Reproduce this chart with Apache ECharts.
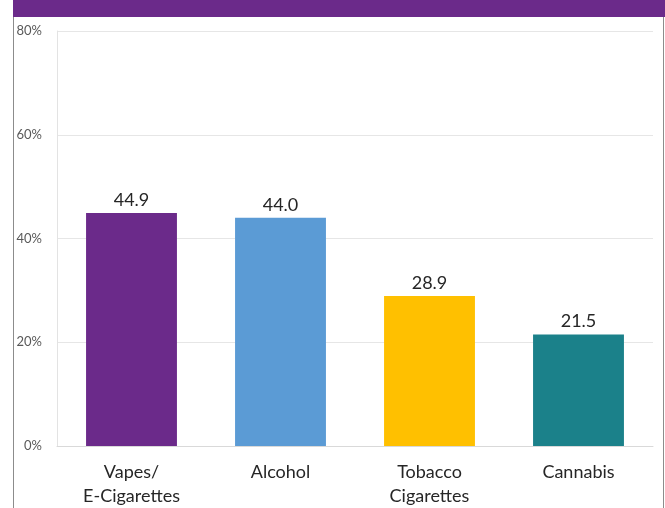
<!DOCTYPE html>
<html>
<head>
<meta charset="utf-8">
<script src="https://cdn.jsdelivr.net/npm/echarts@6/dist/echarts.min.js"></script>
<style>html,body{margin:0;padding:0;background:#fff}#c{width:665px;height:508px}</style>
</head>
<body>
<div id="c"></div>
<script>
var categories = ['Vapes/\nE-Cigarettes', 'Alcohol', 'Tobacco\nCigarettes', 'Cannabis'];
var values = [44.9, 44.0, 28.9, 21.5];
var barColors = ['#6B2A8A', '#5B9BD5', '#FFC000', '#1B818A'];
var yTicks = [0, 20, 40, 60, 80];

var chart = echarts.init(document.getElementById('c'), null, {renderer: 'canvas'});
chart.setOption({
  backgroundColor: '#fff',
  animation: false,
  textStyle: {fontFamily: 'Lato'},
  graphic: [
    {type: 'rect', left: 13, top: 0, shape: {width: 652, height: 17}, style: {fill: '#6B2A8A'}},
    {type: 'line', shape: {x1: 13.5, y1: 17, x2: 13.5, y2: 508}, style: {stroke: '#8c8c8c', lineWidth: 1}},
    {type: 'line', shape: {x1: 663.5, y1: 17, x2: 663.5, y2: 508}, style: {stroke: '#8c8c8c', lineWidth: 1}}
  ],
  grid: {left: 57, right: 12, top: 31, bottom: 58, containLabel: false},
  xAxis: {
    type: 'category',
    data: categories,
    axisTick: {show: false},
    axisLine: {lineStyle: {color: '#d9d9d9'}},
    axisLabel: {color: '#262626', fontSize: 18, lineHeight: 24, margin: 14, fontFamily: 'Lato', interval: 0}
  },
  yAxis: {
    type: 'value',
    min: yTicks[0], max: yTicks[yTicks.length - 1], interval: 20,
    axisLine: {show: true, lineStyle: {color: '#e3e3e3'}},
    axisTick: {show: false},
    splitLine: {lineStyle: {color: '#e6e6e6'}},
    axisLabel: {formatter: '{value}%', color: '#595959', fontSize: 13, margin: 15, fontFamily: 'Lato'}
  },
  series: [{
    type: 'bar',
    barWidth: '61%',
    data: values.map(function (v, i) { return {value: v, itemStyle: {color: barColors[i]}}; }),
    label: {
      show: true, position: 'top', distance: 4,
      formatter: function (p) { return p.value.toFixed(1); },
      color: '#262626', fontSize: 18, fontFamily: 'Lato'
    }
  }]
});
</script>
</body>
</html>
